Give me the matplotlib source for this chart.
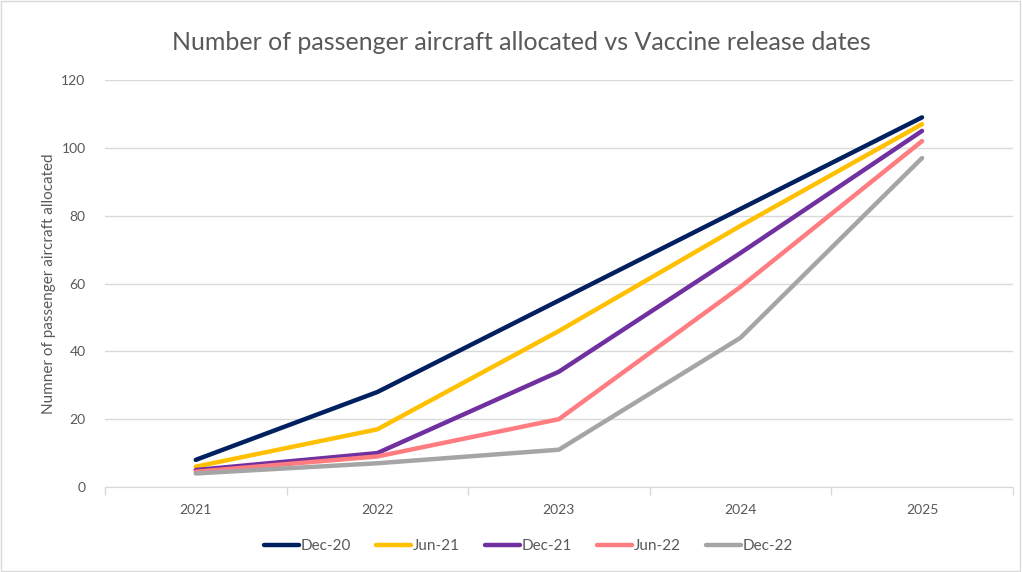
import matplotlib
matplotlib.use("Agg")
import matplotlib.pyplot as plt
from matplotlib.patches import Rectangle

years = ['2021', '2022', '2023', '2024', '2025']
series_names = ['Dec-20', 'Jun-21', 'Dec-21', 'Jun-22', 'Dec-22']
dec20 = [8, 28, 55, 82, 109]
jun21 = [6, 17, 46, 77, 107]
dec21 = [5, 10, 34, 69, 105]
jun22 = [4.5, 9, 20, 59, 102]
dec22 = [4, 7, 11, 44, 97]
colors = ['#002060', '#FFC000', '#7030A0', '#FF7C80', '#A5A5A5']

plt.rcParams['font.family'] = ['Lato', 'DejaVu Sans']
txt = '#595959'

fig = plt.figure(figsize=(10.22, 5.72), dpi=100)
ax = fig.add_axes([0.1027, 0.1486, 0.8883, 0.7114])

x = range(len(years))
for vals, name, c in zip([dec20, jun21, dec21, jun22, dec22], series_names, colors):
    ax.plot(x, vals, color=c, lw=3.2, label=name, solid_capstyle='round', solid_joinstyle='round')

ax.set_xlim(-0.5, 4.5)
ax.set_ylim(0, 120)
ax.set_yticks(range(0, 121, 20))
ax.set_xticks(list(x))
ax.set_xticklabels(years)
ax.set_xticks([i - 0.5 for i in range(6)], minor=True)
ax.tick_params(axis='x', which='major', length=0, pad=12, labelsize=10, labelcolor=txt)
ax.tick_params(axis='x', which='minor', length=6, color='#D9D9D9', width=1)
ax.tick_params(axis='y', length=0, pad=14, labelsize=10, labelcolor=txt)
ax.grid(axis='y', color='#D9D9D9', lw=1)
ax.set_axisbelow(True)
for s in ['top', 'right', 'left']:
    ax.spines[s].set_visible(False)
ax.spines['bottom'].set_color('#D9D9D9')

ax.set_ylabel('Numner of passenger aircraft allocated', fontsize=11, color=txt, labelpad=4)
fig.text(0.510, 0.925, 'Number of passenger aircraft allocated vs Vaccine release dates',
         ha='center', va='center', fontsize=18, color=txt)

fig.legend(loc='center', bbox_to_anchor=(0.517, 0.045), ncol=5, frameon=False,
           fontsize=11, labelcolor=txt, handlelength=2.3, handletextpad=0.1, columnspacing=1.65)

fig.patches.append(Rectangle((0.001, 0.002), 0.997, 0.996, transform=fig.transFigure,
                             fill=False, edgecolor='#D9D9D9', lw=1))

fig.savefig('out.png', dpi=100)
